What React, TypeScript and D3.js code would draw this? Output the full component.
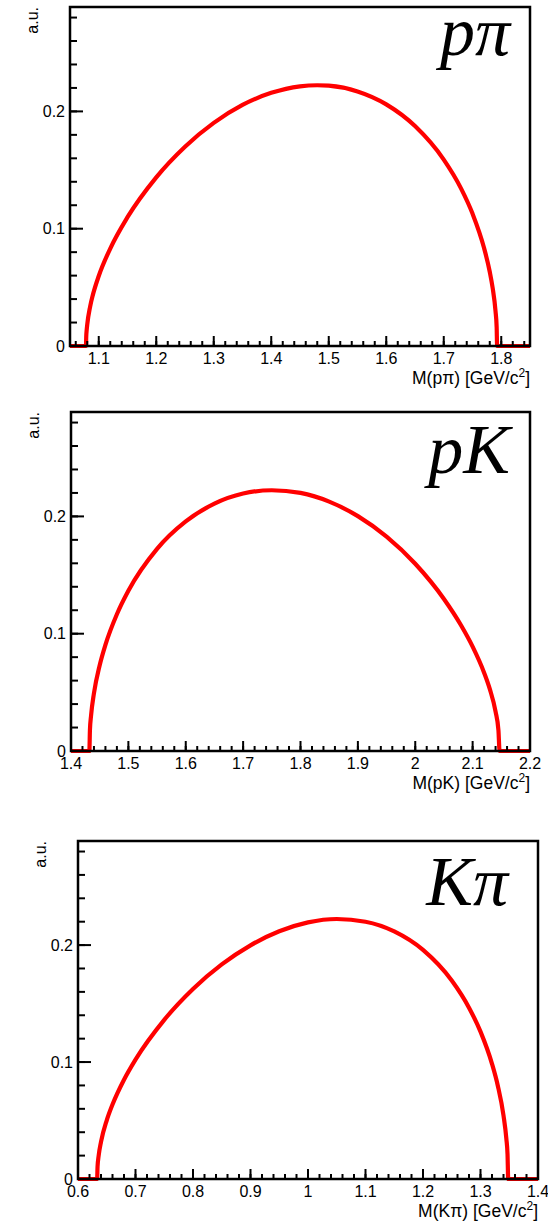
import React, { useEffect, useRef } from 'react';
import * as d3 from 'd3';

// M(p pi) projection
const massPPi = [1.05, 1.0778, 1.0782, 1.079, 1.08, 1.085, 1.09, 1.1, 1.12, 1.15, 1.2, 1.25, 1.3, 1.35, 1.4, 1.45, 1.48, 1.5, 1.55, 1.6, 1.65, 1.7, 1.73, 1.75, 1.77, 1.78, 1.785, 1.79, 1.792, 1.7928, 1.85];
const auPPi = [0, 0, 0.0075, 0.0135, 0.0184, 0.0336, 0.044, 0.0597, 0.0831, 0.1098, 0.1438, 0.1699, 0.1902, 0.2055, 0.2158, 0.2214, 0.2223, 0.2219, 0.217, 0.206, 0.1875, 0.1589, 0.1344, 0.1129, 0.0837, 0.0633, 0.0496, 0.0299, 0.0161, 0, 0];

// M(pK) projection
const massPK = [1.4, 1.432, 1.433, 1.435, 1.44, 1.45, 1.46, 1.48, 1.5, 1.55, 1.6, 1.65, 1.7, 1.75, 1.8, 1.85, 1.9, 1.95, 2.0, 2.05, 2.08, 2.1, 2.12, 2.13, 2.14, 2.145, 2.147, 2.2];
const auPK = [0, 0, 0.0178, 0.0304, 0.0492, 0.0731, 0.0905, 0.1166, 0.1366, 0.1723, 0.1957, 0.2109, 0.2195, 0.2223, 0.22, 0.2126, 0.2002, 0.1827, 0.1596, 0.1296, 0.107, 0.089, 0.0668, 0.0527, 0.0335, 0.0176, 0, 0];

// M(K pi) projection
const massKPi = [0.6, 0.6333, 0.634, 0.636, 0.64, 0.65, 0.66, 0.68, 0.7, 0.75, 0.8, 0.85, 0.9, 0.95, 1.0, 1.05, 1.1, 1.15, 1.2, 1.25, 1.28, 1.3, 1.32, 1.33, 1.34, 1.345, 1.347, 1.3482, 1.4];
const auKPi = [0, 0, 0.0105, 0.0202, 0.0317, 0.0502, 0.0637, 0.0849, 0.1021, 0.1361, 0.1625, 0.1835, 0.1998, 0.2118, 0.2194, 0.2223, 0.22, 0.2117, 0.1959, 0.1697, 0.1465, 0.126, 0.0985, 0.08, 0.0543, 0.0342, 0.0212, 0, 0];

const rangePPi = [1.05, 1.85];
const rangePK = [1.4, 2.2];
const rangeKPi = [0.6, 1.4];
const yMax = 0.289;

const titles = ['M(pπ) [GeV/c', 'M(pK) [GeV/c', 'M(Kπ) [GeV/c'];
const tags = ['pπ', 'pK', 'Kπ'];

const panels = [
  { mass: massPPi, au: auPPi, range: rangePPi, left: 70, top: 7, width: 460, height: 339, tagRight: 20, tagBase: 55 },
  { mass: massPK, au: auPK, range: rangePK, left: 71, top: 412, width: 459, height: 339, tagRight: 20, tagBase: 473 },
  { mass: massKPi, au: auKPi, range: rangeKPi, left: 78, top: 841, width: 460, height: 338, tagRight: 30, tagBase: 905 },
];

const sans = '"Liberation Sans", Arial, Helvetica, sans-serif';

export default function App() {
  const ref = useRef<SVGSVGElement>(null);

  useEffect(() => {
    const svg = d3.select(ref.current);
    svg.selectAll('*').remove();
    const fmt = d3.format('~g');

    panels.forEach((p, i) => {
      const g = svg.append('g').attr('transform', 'translate(' + p.left + ',' + p.top + ')');

      const x = d3.scaleLinear().domain(p.range).range([0, p.width]);
      const y = d3.scaleLinear().domain([0, yMax]).range([p.height, 0]);

      const pts = p.mass.map((m, k) => [m, p.au[k]] as [number, number]);
      const line = d3.line<[number, number]>()
        .x(d => x(d[0]))
        .y(d => y(d[1]))
        .curve(d3.curveMonotoneX);

      g.append('path')
        .datum(pts)
        .attr('d', line)
        .attr('fill', 'none')
        .attr('stroke', '#ff0000')
        .attr('stroke-width', 4.2)
        .attr('stroke-linejoin', 'round');

      // x ticks, pointing up into the frame
      g.selectAll('.xminor')
        .data(x.ticks(40))
        .enter().append('line')
          .attr('x1', d => x(d)).attr('x2', d => x(d))
          .attr('y1', p.height).attr('y2', p.height - 5)
          .attr('stroke', '#000').attr('stroke-width', 2);

      g.selectAll('.xmajor')
        .data(x.ticks(8))
        .enter().append('line')
          .attr('x1', d => x(d)).attr('x2', d => x(d))
          .attr('y1', p.height).attr('y2', p.height - 10)
          .attr('stroke', '#000').attr('stroke-width', 2);

      g.selectAll('.xlab')
        .data(x.ticks(8))
        .enter().append('text')
          .attr('x', d => x(d))
          .attr('y', p.height + 18)
          .attr('text-anchor', 'middle')
          .style('font', '16px ' + sans)
          .text(d => fmt(d));

      // y ticks, pointing right
      g.selectAll('.yminor')
        .data(y.ticks(15))
        .enter().append('line')
          .attr('x1', 0).attr('x2', 7)
          .attr('y1', d => y(d)).attr('y2', d => y(d))
          .attr('stroke', '#000').attr('stroke-width', 2);

      g.selectAll('.ymajor')
        .data(y.ticks(3))
        .enter().append('line')
          .attr('x1', 0).attr('x2', 13)
          .attr('y1', d => y(d)).attr('y2', d => y(d))
          .attr('stroke', '#000').attr('stroke-width', 2);

      g.selectAll('.ylab')
        .data(y.ticks(3))
        .enter().append('text')
          .attr('x', -5)
          .attr('y', d => y(d))
          .attr('dy', '0.36em')
          .attr('text-anchor', 'end')
          .style('font', '16px ' + sans)
          .text(d => fmt(d));

      g.append('rect')
        .attr('width', p.width)
        .attr('height', p.height)
        .attr('fill', 'none')
        .attr('stroke', '#000')
        .attr('stroke-width', 2.5);

      g.append('text')
        .attr('transform', 'translate(-32,0) rotate(-90)')
        .attr('text-anchor', 'end')
        .style('font', '16px ' + sans)
        .text('a.u.');

      const t = g.append('text')
        .attr('x', p.width)
        .attr('y', p.height + 38)
        .attr('text-anchor', 'end')
        .style('font', '17.5px ' + sans);
      t.append('tspan').text(titles[i]);
      t.append('tspan').attr('dy', -7).style('font-size', '12px').text('2');
      t.append('tspan').attr('dy', 7).text(']');

      g.append('text')
        .attr('x', p.width - p.tagRight)
        .attr('y', p.tagBase - p.top)
        .attr('text-anchor', 'end')
        .style('font', 'italic 70px "Liberation Serif", "Times New Roman", serif')
        .text(tags[i]);
    });
  }, []);

  return (
    <svg ref={ref} width={548} height={1222}
      style={{ position: 'absolute', left: 0, top: 0, background: '#fff' }} />
  );
}
